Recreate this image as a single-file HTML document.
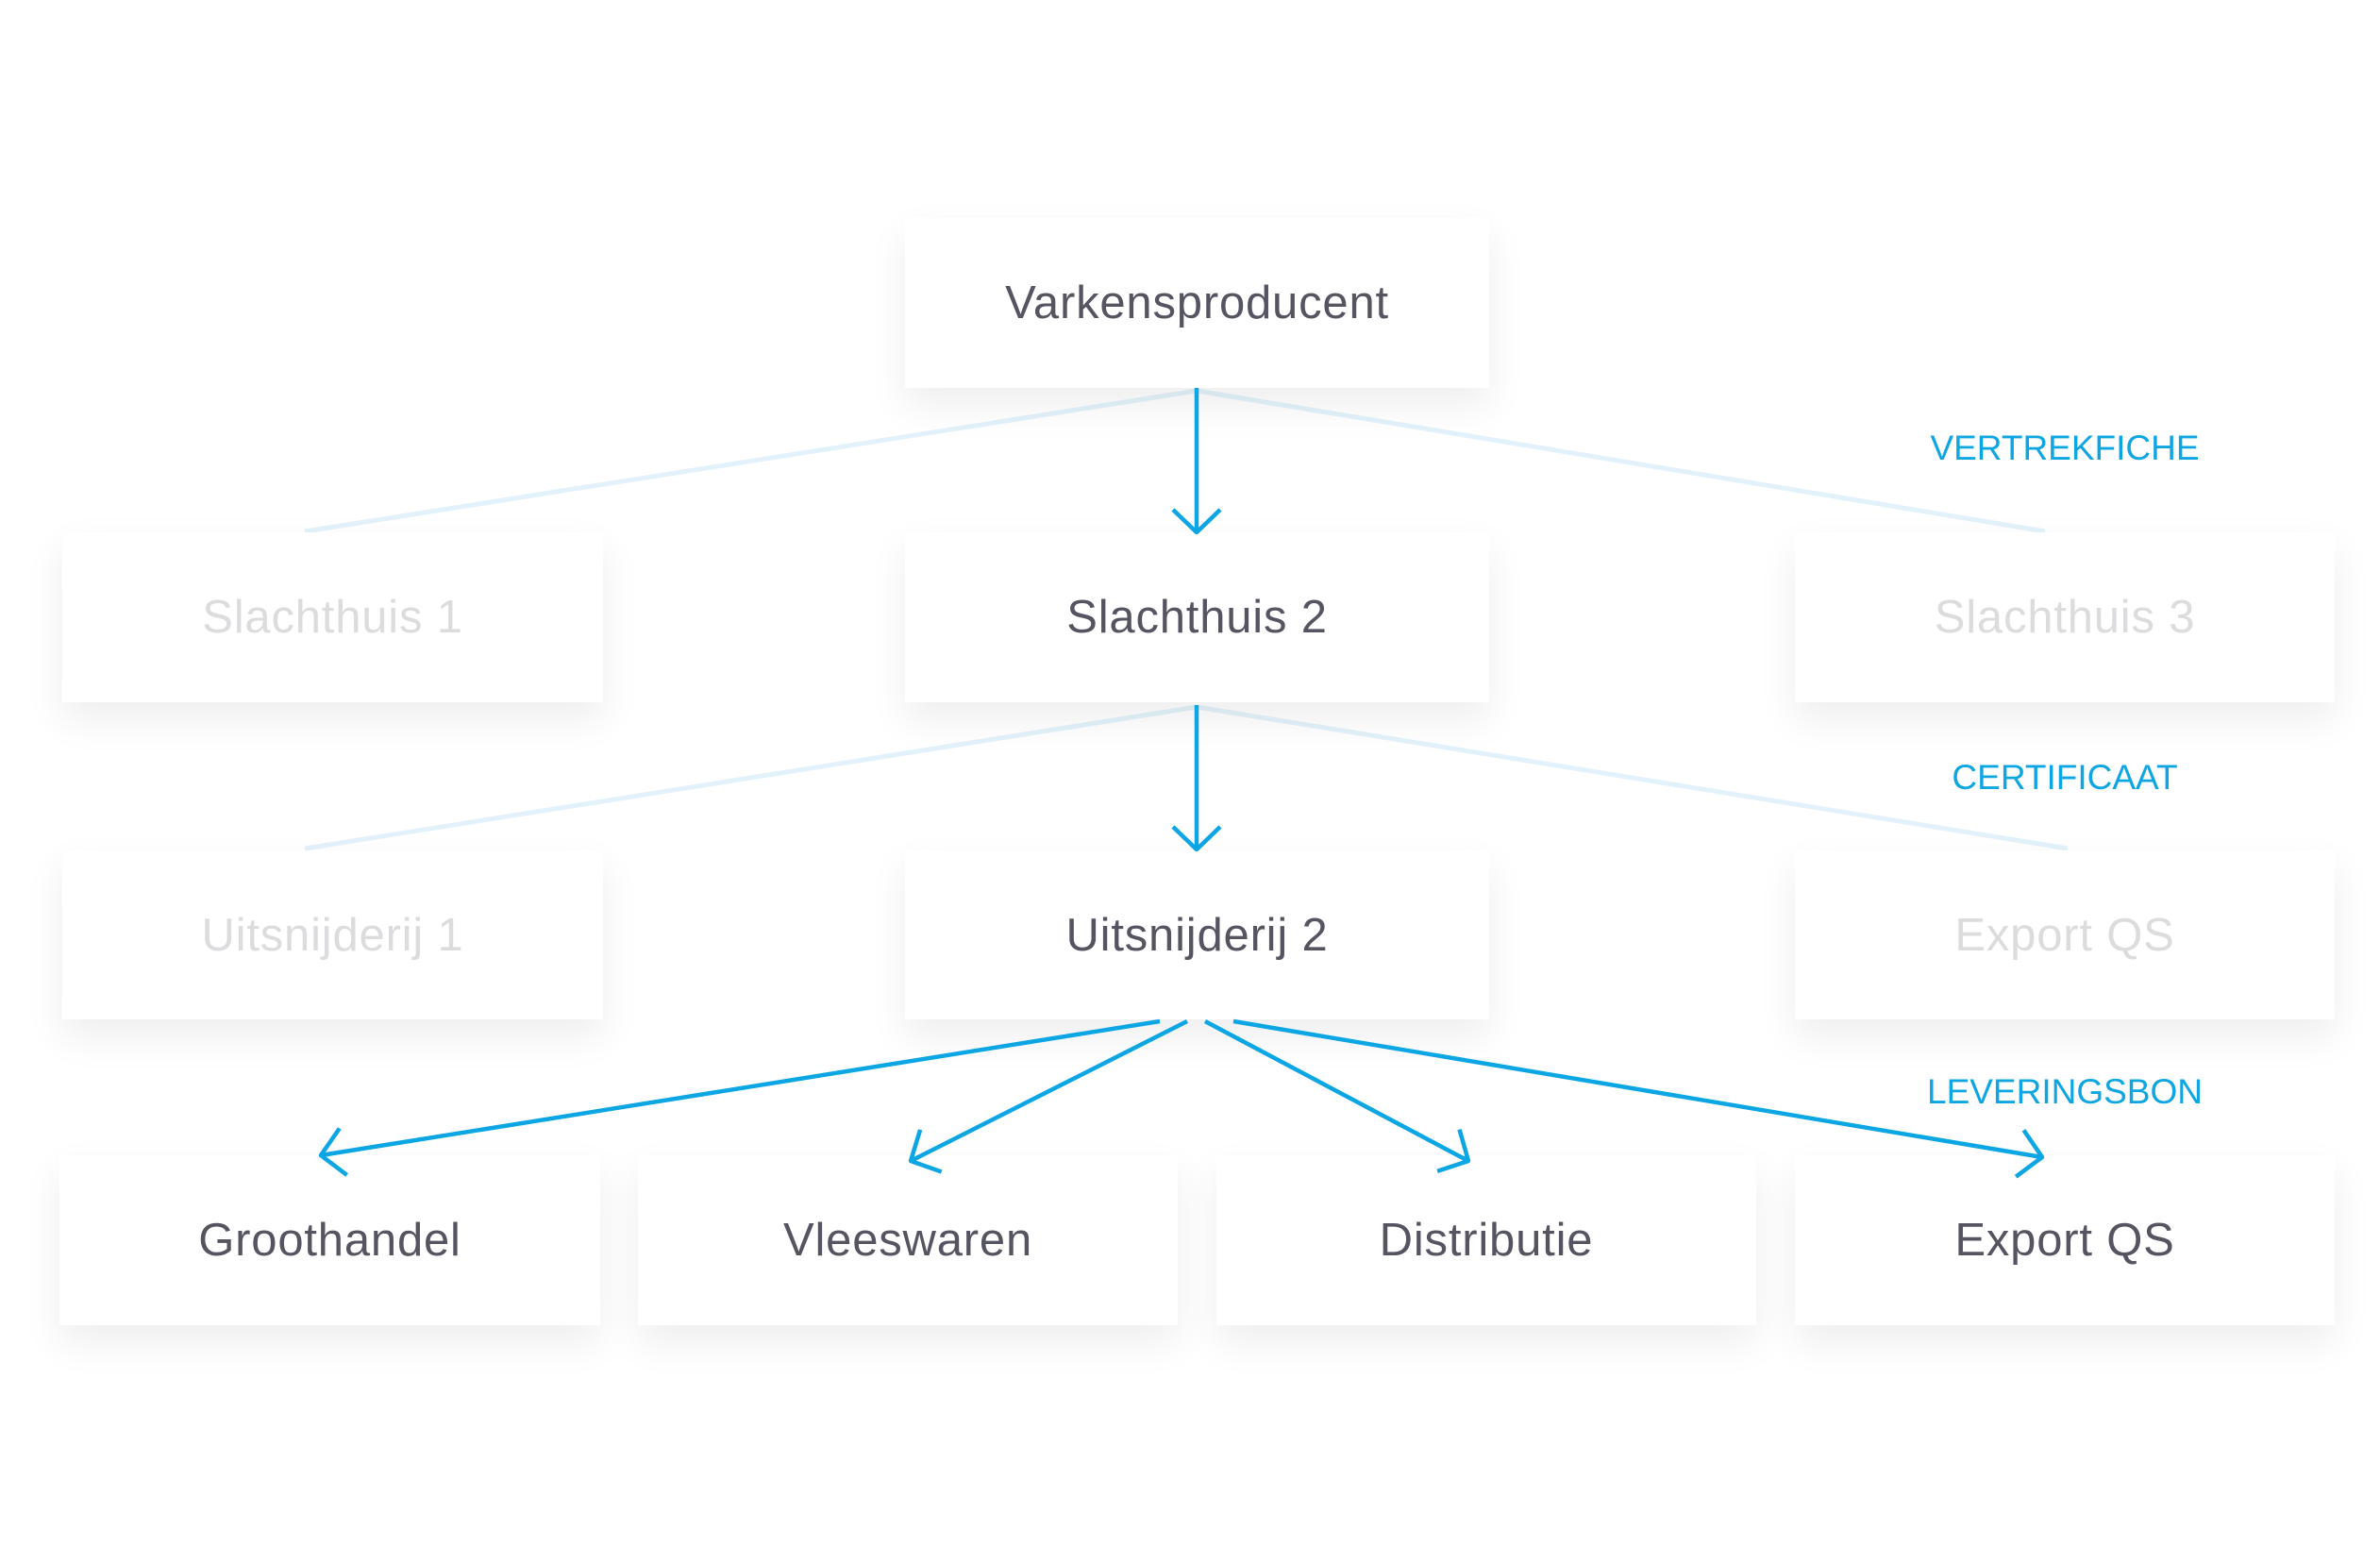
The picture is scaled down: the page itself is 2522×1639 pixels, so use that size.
<!DOCTYPE html>
<html><head><meta charset="utf-8"><style>
html,body{margin:0;padding:0;background:#fff;}
body{width:2522px;height:1639px;position:relative;overflow:hidden;font-family:"Liberation Sans",sans-serif;}
.b{position:absolute;background:#fff;box-shadow:0 18px 40px rgba(0,0,0,0.07);display:flex;align-items:center;justify-content:center;font-size:49px;color:#555561;letter-spacing:0.8px;}
.f{color:#dcdcdf;}
.l{position:absolute;color:#0ea5e3;font-size:37px;width:600px;text-align:center;}
svg{position:absolute;left:0;top:0;}
</style></head><body>
<svg width="2522" height="1639" viewBox="0 0 2522 1639">
<defs><marker id="a" viewBox="0 0 28 54" markerWidth="28" markerHeight="54" markerUnits="userSpaceOnUse" refX="26" refY="27" orient="auto"><path d="M2,2 L26,27 L2,52" fill="none" stroke="#0ca6e4" stroke-width="4.5"/></marker></defs>
<g stroke="#e3f2fa" stroke-width="5" fill="none">
<line x1="1268" y1="414" x2="323" y2="563"/>
<line x1="1268" y1="414" x2="2167" y2="563"/>
<line x1="1268" y1="749" x2="323" y2="899"/>
<line x1="1268" y1="749" x2="2191" y2="899"/>
</g>
</svg>
<div class="b" style="left:959px;top:231px;width:619px;height:180px">Varkensproducent</div>
<div class="b f" style="left:66px;top:564px;width:573px;height:180px">Slachthuis 1</div>
<div class="b" style="left:959px;top:564px;width:619px;height:180px">Slachthuis 2</div>
<div class="b f" style="left:1902px;top:564px;width:572px;height:180px">Slachthuis 3</div>
<div class="b f" style="left:66px;top:901px;width:573px;height:179px">Uitsnijderij 1</div>
<div class="b" style="left:959px;top:901px;width:619px;height:179px">Uitsnijderij 2</div>
<div class="b f" style="left:1902px;top:901px;width:572px;height:179px">Export QS</div>
<div class="b" style="left:63px;top:1224px;width:573px;height:180px">Groothandel</div>
<div class="b" style="left:676px;top:1224px;width:572px;height:180px">Vleeswaren</div>
<div class="b" style="left:1289px;top:1224px;width:572px;height:180px">Distributie</div>
<div class="b" style="left:1902px;top:1224px;width:572px;height:180px">Export QS</div>
<div class="l" style="left:1888px;top:454px">VERTREKFICHE</div>
<div class="l" style="left:1888px;top:803px">CERTIFICAAT</div>
<div class="l" style="left:1888px;top:1136px">LEVERINGSBON</div>
<svg width="2522" height="1639" viewBox="0 0 2522 1639">
<g stroke="#0ca6e4" stroke-width="4.5" fill="none" marker-end="url(#a)">
<line x1="1268" y1="411" x2="1268" y2="564"/>
<line x1="1268" y1="747" x2="1268" y2="900"/>
<line x1="1229" y1="1082" x2="340" y2="1224"/>
<line x1="1258" y1="1082" x2="965" y2="1230"/>
<line x1="1277" y1="1082" x2="1556" y2="1230"/>
<line x1="1307" y1="1082" x2="2164" y2="1226"/>
</g>
</svg>
</body></html>
